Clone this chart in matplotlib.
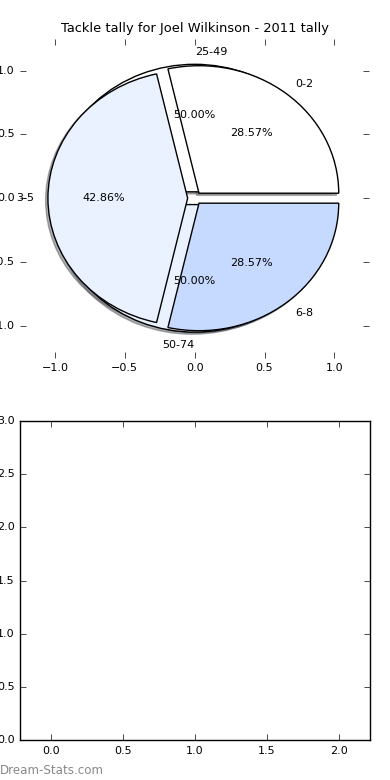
import matplotlib
matplotlib.use("Agg")
import matplotlib.pyplot as plt

plt.style.use('classic')
plt.rcParams['font.family'] = ['DejaVu Sans']
plt.rcParams['font.size'] = 8

title = "Tackle tally for Joel Wilkinson - 2011 tally"
inner_labels = ["0-2", "3-5", "6-8"]
inner_values = [2, 3, 2]
outer_labels = ["25-49", "50-74"]
outer_values = [1, 1]
colors = ["#FFFFFF", "#EAF1FF", "#C6D9FF"]
pie_ticks = [-1.0, -0.5, 0.0, 0.5, 1.0]
bottom_xticks = [0.0, 0.5, 1.0, 1.5, 2.0]
bottom_yticks = [0.0, 0.5, 1.0, 1.5, 2.0, 2.5, 3.0]

fig = plt.figure(figsize=(3.9, 7.8), dpi=100, facecolor='white')
ax1 = fig.add_axes([20/390, 1-357.6/780, 349.3/390, 318.8/780])
ax2 = fig.add_axes([20/390, 1-740/780, 350/390, 319/780])

shadow = dict(ox=-0.012, oy=-0.012, shade=0.6)
ax1.pie(outer_values, labels=outer_labels, colors=colors[:2], explode=[0.05]*2,
        autopct='%1.2f%%', shadow=shadow, startangle=-0.001,
        wedgeprops=dict(edgecolor='black', linewidth=1.0),
        textprops=dict(fontsize=8))
ax1.pie(inner_values, labels=inner_labels, colors=colors, explode=[0.05]*3,
        autopct='%1.2f%%', shadow=shadow, startangle=0,
        wedgeprops=dict(edgecolor='black', linewidth=1.0),
        textprops=dict(fontsize=8))
ax1.set_aspect('auto')
ax1.set_frame_on(False)
ax1.set_xlim(-1.25, 1.25)
ax1.set_ylim(-1.25, 1.25)
ax1.set_xticks(pie_ticks)
ax1.set_yticks(pie_ticks)
ax1.set_title(title, fontsize=9.4)

ax2.set_xlim(-0.215, 2.215)
ax2.set_ylim(0, 3)
ax2.set_xticks(bottom_xticks)
ax2.set_yticks(bottom_yticks)

for ax in (ax1, ax2):
    ax.tick_params(labelsize=8)

fig.text(0.0, 1-770/780, "Dream-Stats.com", fontsize=8.6, color='#888888',
         ha='left', va='center')

fig.savefig("out.png", dpi=100, facecolor='white')
